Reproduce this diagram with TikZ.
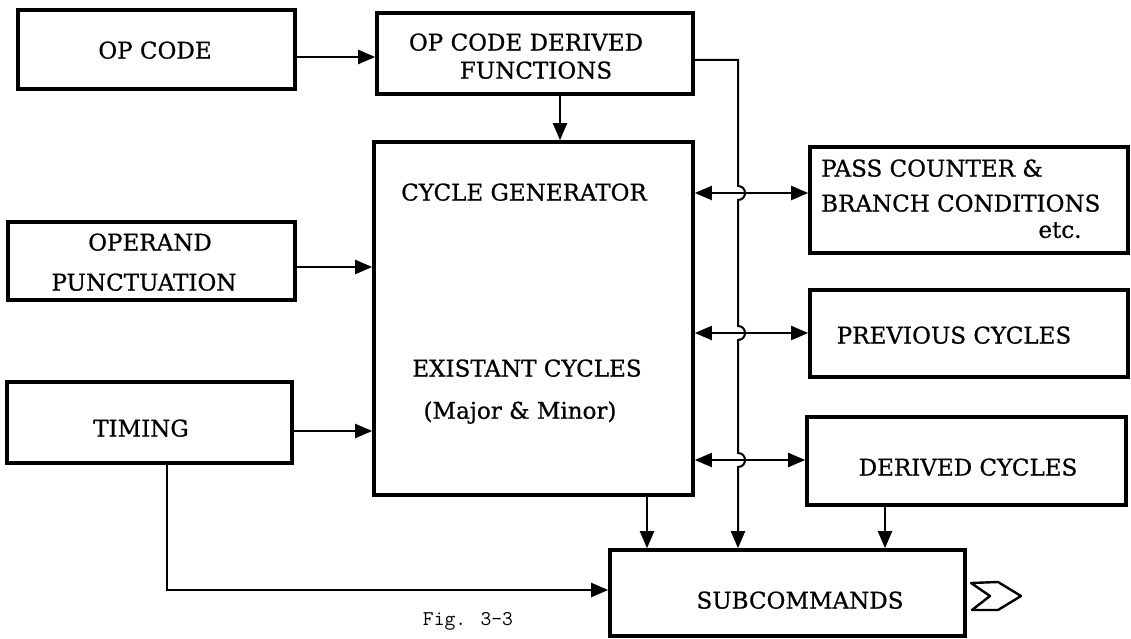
\documentclass[tikz,border=0pt]{standalone}
\usepackage{fontspec}
\setmainfont{DejaVu Serif}[BoldFont={DejaVu Serif}, BoldFeatures={FakeBold=0.8}]
\usetikzlibrary{arrows.meta}
\newcommand{\lblfont}{\fontsize{23}{27}\selectfont\bfseries}
\begin{document}
\begin{tikzpicture}[x=1pt,y=-1pt,
  box/.style={draw, line width=3.6pt, inner sep=0pt},
  lbl/.style={inner sep=0pt, font=\lblfont, text depth=0pt},
  conn/.style={line width=2pt},
  tip/.style={-{Triangle[length=17pt,width=14pt]}},
  arr/.style={conn, tip},
  arrtwo/.style={conn, {Triangle[length=17pt,width=14pt]}-{Triangle[length=17pt,width=14pt]}},
]
\useasboundingbox (0,0) rectangle (1131,639);

% blocks
\node[box, minimum width=277pt, minimum height=79pt] (opcode)  at (156.5,49.5) {};
\node[box, minimum width=316pt, minimum height=81pt] (ocdf)    at (535,53.5) {};
\node[box, minimum width=319pt, minimum height=353pt] (cg)     at (533.5,318.5) {};
\node[box, minimum width=287pt, minimum height=78pt] (operand) at (151.5,261) {};
\node[box, minimum width=285pt, minimum height=81pt] (timing)  at (149.5,422.5) {};
\node[box, minimum width=318pt, minimum height=106pt] (pass)   at (969,200) {};
\node[box, minimum width=318pt, minimum height=87pt] (prev)    at (969,333.5) {};
\node[box, minimum width=319pt, minimum height=88pt] (derived) at (966.5,461) {};
\node[box, minimum width=355pt, minimum height=86pt] (sub)     at (787.5,593) {};

% labels
\node[lbl] (t-opcode)   at (155,50)  {OP CODE};
\node[lbl] (t-ocdf1)    at (526,42)  {OP CODE DERIVED};
\node[lbl] (t-ocdf2)    at (536,70)  {FUNCTIONS};
\node[lbl] (t-cg1)      at (524,192) {CYCLE GENERATOR};
\node[lbl] (t-cg2)      at (527,368) {EXISTANT CYCLES};
\node[lbl] (t-cg3)      at (520,410) {(Major \& Minor)};
\node[lbl] (t-operand1) at (150,242) {OPERAND};
\node[lbl] (t-operand2) at (144,282) {PUNCTUATION};
\node[lbl] (t-timing)   at (141,428) {TIMING};
\node[lbl, anchor=west] (t-pass1) at (821,168) {PASS COUNTER \&};
\node[lbl, anchor=west] (t-pass2) at (821,203) {BRANCH CONDITIONS};
\node[lbl] (t-pass3)    at (1060,230) {etc.};
\node[lbl] (t-prev)     at (954,335) {PREVIOUS CYCLES};
\node[lbl] (t-derived)  at (968,467) {DERIVED CYCLES};
\node[lbl] (t-sub)      at (800,600) {SUBCOMMANDS};
\node[inner sep=0pt, font=\ttfamily\fontsize{21}{23}\selectfont] (fig) at (468,621) {Fig. 3-3};

% connectors into the cycle generator
\draw[arr] (opcode.east |- 0,57) -- (ocdf.west |- 0,57);
\draw[arr] (ocdf.south -| 560,0) -- (cg.north -| 560,0);
\draw[arr] (operand.east |- 0,267) -- (cg.west |- 0,267);
\draw[arr] (timing.east |- 0,431) -- (cg.west |- 0,431);

% two-way links to the right-hand blocks
\draw[arrtwo] (cg.east |- 0,193) -- (pass.west |- 0,193);
\draw[arrtwo] (cg.east |- 0,333) -- (prev.west |- 0,333);
\draw[arrtwo] (cg.east |- 0,460) -- (derived.west |- 0,460);

% op-code bus hopping over the two-way links
\coordinate (bus) at (738,60);
\draw[arr] (ocdf.east |- bus) -- (bus)
  -- (738,186) .. controls (747.3,186) and (747.3,200) .. (738,200)
  -- (738,326) .. controls (747.3,326) and (747.3,340) .. (738,340)
  -- (738,453) .. controls (747.3,453) and (747.3,467) .. (738,467)
  -- (sub.north -| bus);

% feeds into the subcommands
\draw[arr] (cg.south -| 647,0) -- (sub.north -| 647,0);
\draw[arr] (derived.south -| 885,0) -- (sub.north -| 885,0);
\coordinate (tcorner) at (167,590);
\draw[arr] (timing.south -| tcorner) -- (tcorner) -- (sub.west |- tcorner);

% output marker
\draw[line width=2.4pt, line join=round] (971,583) -- (998,582) -- (1021,596)
  -- (998,610) -- (972,610) -- (990,596) -- cycle;
\end{tikzpicture}
\end{document}
